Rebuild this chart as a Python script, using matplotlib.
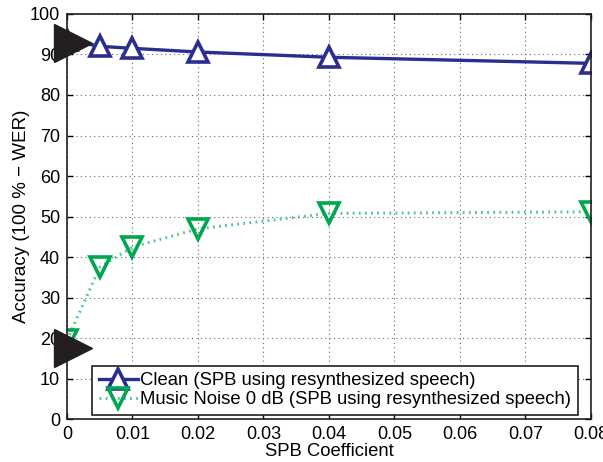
import numpy as np
import matplotlib
matplotlib.use("Agg")
import matplotlib.pyplot as plt

plt.rcParams['font.family'] = ['Liberation Sans', 'DejaVu Sans']

# data
spb = [0, 0.005, 0.01, 0.02, 0.04, 0.08]
clean = [93.5, 92.0, 91.5, 90.6, 89.3, 87.8]
music = [19.5, 37.5, 42.5, 47.0, 50.8, 51.2]
pointer_x = [0.001, 0.001]
pointer_y = [92.8, 17.6]

x_ticks = [0, 0.01, 0.02, 0.03, 0.04, 0.05, 0.06, 0.07, 0.08]
y_ticks = [0, 10, 20, 30, 40, 50, 60, 70, 80, 90, 100]

blue = '#2b2e8f'
green = '#00a650'

fig = plt.figure(figsize=(6.03, 4.62), dpi=100)
ax = fig.add_axes([0.111, 0.092, 0.869, 0.878])

ax.plot(spb, clean, color=blue, lw=2.4, marker='^', ms=14, mfc='white',
        mec=blue, mew=2.6, label='Clean (SPB using resynthesized speech)')
ax.plot(spb, music, color='#55c98a', lw=2.2, ls=(0, (0.6, 1.4)), marker='v', ms=14,
        mfc='none', mec=green, mew=2.6,
        label='Music Noise 0 dB (SPB using resynthesized speech)')
ax.plot(pointer_x, pointer_y, ls='none', marker='>', ms=28, color='#231f20',
        clip_on=False, zorder=5)

ax.set_xlim(0, 0.08)
ax.set_ylim(0, 100)
ax.set_xticks(x_ticks)
ax.set_xticklabels(['0', '0.01', '0.02', '0.03', '0.04', '0.05', '0.06', '0.07', '0.08'])
ax.set_yticks(y_ticks)
ax.tick_params(direction='in', top=True, right=True, labelsize=13, length=4, width=1, pad=5)
ax.grid(True, ls=(0, (1, 3)), color='#666666', lw=0.8)
for s in ax.spines.values():
    s.set_linewidth(1.2)
    s.set_color('#231f20')

ax.set_xlabel('SPB Coefficient', fontsize=13.3, labelpad=0)
ax.set_ylabel('Accuracy (100 % \u2212 WER)', fontsize=13.5, labelpad=0)

leg = ax.legend(loc='lower right', bbox_to_anchor=(0.975, 0.012), fontsize=13.3,
                fancybox=False, edgecolor='#231f20', framealpha=1, handlelength=2.1,
                borderpad=0.35, labelspacing=0.1, handletextpad=0.15, borderaxespad=0)
leg.get_frame().set_linewidth(1.2)

fig.savefig('out.png', dpi=100)
